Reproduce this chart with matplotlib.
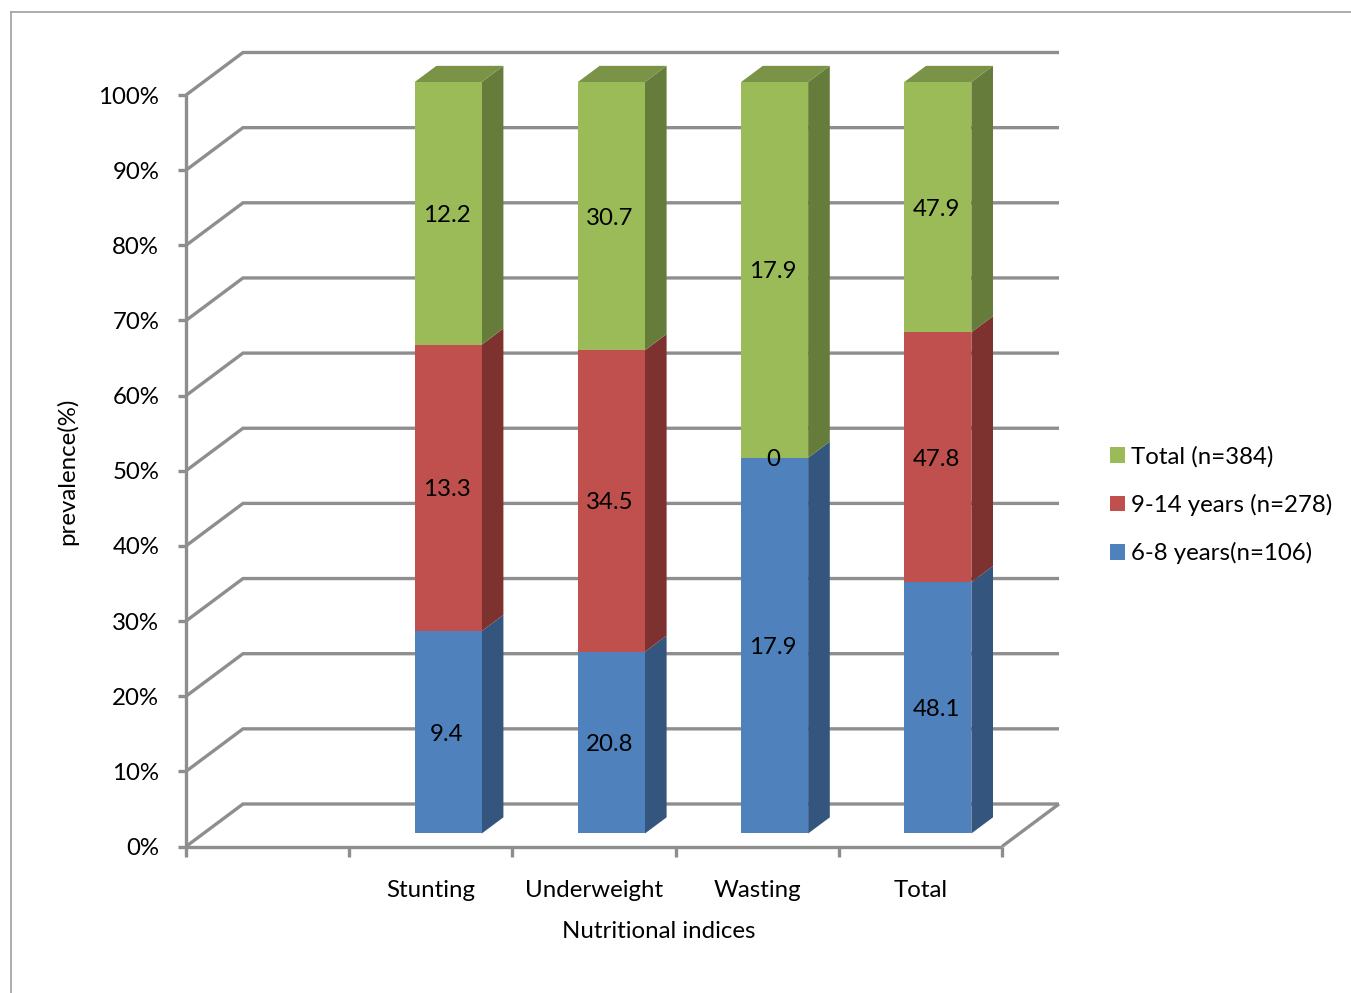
import numpy as np
import matplotlib
matplotlib.use("Agg")
import matplotlib.pyplot as plt
from matplotlib.patches import Polygon, Patch
from matplotlib.lines import Line2D

plt.rcParams['font.family'] = ['Lato', 'DejaVu Sans']

# ---- data -------------------------------------------------------------
categories = ["Stunting", "Underweight", "Wasting", "Total"]
series_names = ["6-8 years(n=106)", "9-14 years (n=278)", "Total (n=384)"]
age_6_8 = [9.4, 20.8, 17.9, 48.1]
age_9_14 = [13.3, 34.5, 0, 47.8]
total_all = [12.2, 30.7, 17.9, 47.9]
y_ticks = [0, 10, 20, 30, 40, 50, 60, 70, 80, 90, 100]
y_tick_labels = [f"{v}%" for v in y_ticks]

# ---- style ------------------------------------------------------------
front_colors = ["#4F81BD", "#C0504D", "#9BBB59"]
side_colors = ["#34567E", "#7D3230", "#667C3A"]
top_colors = ["#3F6797", "#9A403E", "#7A9346"]
grid_color = "#8E8E8E"
FS = 17.3

W, H = 1351, 993
fig = plt.figure(figsize=(W / 100, H / 100), dpi=100)

# front plane of the 3-D box (pixel placement of the axes)
x0_px, x1_px = 186, 1002
y0_px, y1_px = 846.5, 95
ax = fig.add_axes([x0_px / W, 1 - y0_px / H, (x1_px - x0_px) / W, (y0_px - y1_px) / H])

n_slots = len(categories) + 1          # first category slot is left empty
positions = np.arange(1, n_slots)
ax.set_xlim(-0.5, n_slots - 0.5)
ax.set_ylim(0, 100)
for s in ax.spines.values():
    s.set_visible(False)

px_x = (x1_px - x0_px) / n_slots
px_y = (y0_px - y1_px) / 100
DX = 57 / px_x        # depth offset in data units
DY = 42.5 / px_y

lw = 2.4
line_kw = dict(color=grid_color, lw=lw, clip_on=False, solid_capstyle='butt',
               solid_joinstyle='miter', zorder=1)

# side wall + back wall gridlines
xl, xr = -0.5, n_slots - 0.5
for t in y_ticks:
    ax.plot([xl, xl + DX, xr + DX], [t, t + DY, t + DY], **line_kw)
# vertical axis and floor edges
ax.plot([xl, xl], [0, 100], **line_kw)
ax.plot([xl, xr], [0, 0], **line_kw)
ax.plot([xr, xr + DX], [0, DY], **line_kw)

# ticks
ax.set_yticks(y_ticks, y_tick_labels, fontsize=FS)
ax.tick_params(axis='y', length=5.8, width=lw, color=grid_color, pad=13.5)
ax.set_xticks(np.arange(n_slots + 1) - 0.5, [""] * (n_slots + 1))
ax.tick_params(axis='x', length=7.2, width=lw, color=grid_color)
for p, c in zip(positions, categories):
    ax.text(p, -(897 - y0_px) / px_y, c, ha='center', va='baseline', fontsize=FS)

# ---- stacked 100% 3-D bars --------------------------------------------
vals = np.array([age_6_8, age_9_14, total_all], dtype=float)
pct = vals / vals.sum(axis=0) * 100
cum = np.vstack([np.zeros(len(categories)), np.cumsum(pct, axis=0)])

bw = 67 / px_x
f0 = 0.306            # depth position of the bar front face
dep = 0.38            # bar depth
fx, fy = f0 * DX, f0 * DY
bx, by = dep * DX, dep * DY

for j, p in enumerate(positions):
    left = p - bw / 2 + fx
    right = p + bw / 2 + fx
    for k in range(3):
        b = cum[k, j] + fy
        t = cum[k + 1, j] + fy
        if t > b:
            side = Polygon([(right, b), (right + bx, b + by), (right + bx, t + by), (right, t)],
                           closed=True, fc=side_colors[k], ec='none', clip_on=False, zorder=3)
            front = Polygon([(left, b), (right, b), (right, t), (left, t)],
                            closed=True, fc=front_colors[k], ec='none', clip_on=False, zorder=4)
            ax.add_patch(side)
            ax.add_patch(front)
        ax.text((left + right) / 2 - 0.01, (b + t) / 2, f"{vals[k, j]:g}", ha='center',
                va='center_baseline', fontsize=FS, zorder=6, clip_on=False)
    t = cum[-1, j] + fy
    top = Polygon([(left, t), (right, t), (right + bx, t + by), (left + bx, t + by)],
                  closed=True, fc=top_colors[2], ec='none', clip_on=False, zorder=4)
    ax.add_patch(top)

# ---- axis titles --------------------------------------------------------
fig.text(67 / W, 1 - 471 / H, "prevalence(%)", rotation=90, ha='center', va='center', fontsize=FS)
fig.text(659 / W, 1 - 932 / H, "Nutritional indices", ha='center', va='center', fontsize=FS)

# ---- legend -------------------------------------------------------------
handles = [Patch(fc=front_colors[k], ec='none') for k in (2, 1, 0)]
labels = [series_names[k] for k in (2, 1, 0)]
fig.legend(handles, labels, loc='center left', bbox_to_anchor=(1110 / W, 1 - 505 / H),
           bbox_transform=fig.transFigure, frameon=False, fontsize=FS,
           handlelength=0.62, handleheight=0.62, handletextpad=0.25,
           labelspacing=1.1, borderpad=0, borderaxespad=0)

# ---- chart border -------------------------------------------------------
bc = "#A6A6A6"
fig.add_artist(Line2D([10.5 / W, 10.5 / W], [0, 1 - 12 / H], color=bc, lw=1.3))
fig.add_artist(Line2D([10.5 / W, 1], [1 - 12 / H, 1 - 12 / H], color=bc, lw=1.3))

fig.savefig("out.png", dpi=100)
